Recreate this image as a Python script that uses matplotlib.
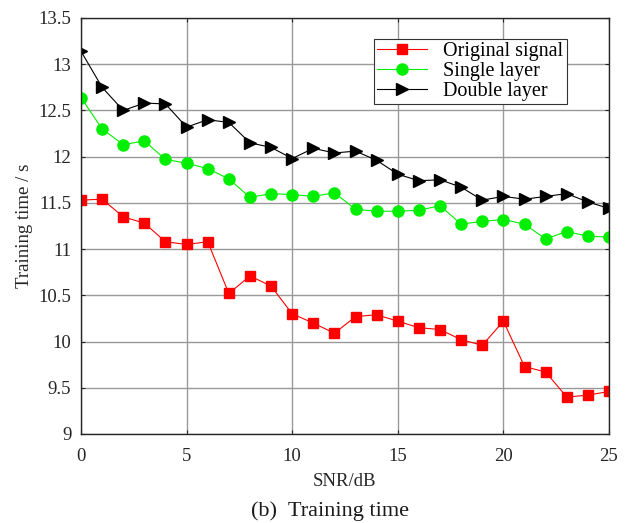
import matplotlib
matplotlib.use("Agg")
from matplotlib import pyplot as plt
import numpy as np

snr = list(range(0, 26))
original = [11.53, 11.54, 11.35, 11.28, 11.08, 11.05, 11.08, 10.52, 10.71, 10.60,
            10.30, 10.20, 10.09, 10.27, 10.29, 10.22, 10.15, 10.13, 10.02, 9.96,
            10.22, 9.73, 9.67, 9.40, 9.42, 9.46]
single = [12.64, 12.30, 12.13, 12.17, 11.97, 11.93, 11.87, 11.76, 11.56, 11.60,
          11.59, 11.57, 11.61, 11.43, 11.41, 11.41, 11.42, 11.47, 11.27, 11.30,
          11.32, 11.27, 11.11, 11.19, 11.14, 11.13]
double = [13.14, 12.75, 12.50, 12.58, 12.57, 12.32, 12.40, 12.37, 12.15, 12.10,
          11.98, 12.09, 12.04, 12.06, 11.96, 11.81, 11.74, 11.75, 11.67, 11.53,
          11.57, 11.54, 11.57, 11.60, 11.51, 11.44]
series_names = ['Original signal', 'Single layer', 'Double layer']

plt.rcParams['font.family'] = 'Liberation Serif'
plt.rcParams['font.size'] = 13

fig = plt.figure(figsize=(6.36, 5.23), dpi=100)
ax = fig.add_axes([81/636, 1 - 434/523, (609-81)/636, (434-18)/523])

ax.plot(snr, original, color='red', marker='s', markersize=6.5, linewidth=0.8,
        label=series_names[0])
ax.plot(snr, single, color='#00ee00', marker='o', markersize=8, linewidth=0.8,
        label=series_names[1])
ax.plot(snr, double, color='black', marker='>', markersize=9, linewidth=0.8,
        label=series_names[2])

ax.set_xlim(0, 25)
ax.set_ylim(9, 13.5)
ax.set_xticks(np.arange(0, 26, 5))
ax.set_yticks(np.arange(9, 13.51, 0.5))
ax.set_yticklabels(['9', '9.5', '10', '10.5', '11', '11.5', '12', '12.5', '13', '13.5'])
ax.grid(True, color='#999999', linewidth=1.0)
ax.set_axisbelow(True)
ax.tick_params(direction='in', top=True, right=True, length=3, colors='#262626',
               labelcolor='#262626', labelsize=13.5)
ax.tick_params(axis='x', pad=10)
ax.tick_params(axis='y', pad=7)
for s in ax.spines.values():
    s.set_color('#262626')
    s.set_linewidth(1.0)

ax.set_xlabel('SNR/dB', fontsize=13.5, color='#262626', labelpad=6)
ax.set_ylabel('Training time / s', fontsize=13.5, color='#262626', labelpad=4)

# legend pinned by its top-left corner
leg = ax.legend(loc='upper left', bbox_to_anchor=((374-81)/528, 0.95), fancybox=False,
                edgecolor='#333333', framealpha=1, fontsize=14.5, handlelength=2.5,
                borderpad=0.15, labelspacing=0.05, handletextpad=0.8, borderaxespad=0)
leg.get_frame().set_linewidth(0.8)

fig.text(330/636, 1 - 511/523, '(b)  Training time', ha='center', va='center',
         fontsize=16, family='Liberation Serif', color='#1a1a1a')

fig.savefig('out.png', dpi=100)
